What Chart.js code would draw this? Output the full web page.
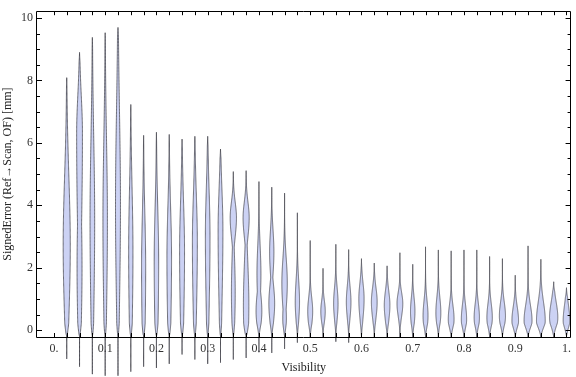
<!DOCTYPE html>
<html>
<head>
<meta charset="utf-8">
<script src="https://cdn.jsdelivr.net/npm/chart.js@4/dist/chart.umd.min.js"></script>
<style>
  html, body { margin: 0; padding: 0; background: #fff; }
  canvas { display: block; }
</style>
</head>
<body>
<canvas id="chart" width="576" height="377"></canvas>
<script>
// visibility bins (violin centres)
const positions = [
  0.025, 0.05, 0.075, 0.1, 0.125, 0.15, 0.175, 0.2, 0.225, 0.25,
  0.275, 0.3, 0.325, 0.35, 0.375, 0.4, 0.425, 0.45, 0.475, 0.5,
  0.525, 0.55, 0.575, 0.6, 0.625, 0.65, 0.675, 0.7, 0.725, 0.75,
  0.775, 0.8, 0.825, 0.85, 0.875, 0.9, 0.925, 0.95, 0.975, 1.0
];
// min / max signed error per bin [mm]
const lows = [
  -0.92, -1.17, -1.41, -1.46, -1.46, -1.33, -1.17, -1.21, -1.08, -0.78,
  -0.94, -1.08, -1.04, -0.94, -0.89, -0.71, -0.73, -0.60, -0.40, -0.22,
  -0.22, -0.37, -0.40, -0.24, -0.24, -0.24, -0.24, -0.24, -0.24, -0.24,
  -0.24, -0.24, -0.24, -0.24, -0.24, -0.24, -0.24, -0.24, -0.24, -0.24
];
const highs = [
  8.09, 8.90, 9.38, 9.53, 9.70, 7.23, 6.24, 6.34, 6.27, 6.12,
  6.21, 6.21, 5.80, 5.08, 5.11, 4.76, 4.58, 4.39, 3.76, 2.87,
  1.98, 2.75, 2.58, 2.29, 2.15, 2.06, 2.48, 2.11, 2.67, 2.57,
  2.54, 2.57, 2.57, 2.36, 2.29, 1.76, 2.70, 2.27, 1.55, 1.36
];
// main density peak: location, height, spread above / below
const modes = [
  2.7, 6.3, 3.5, 3.5, 4.0, 2.5, 2.0, 2.2, 2.3, 2.5,
  2.8, 3.0, 3.2, 3.6, 3.6, 0.6, 0.85, 1.5, 0.9, 0.6,
  0.6, 0.85, 0.9, 1.0, 0.9, 0.8, 0.85, 0.6, 0.45, 0.55,
  0.35, 0.35, 0.4, 0.4, 0.45, 0.3, 0.3, 0.3, 0.4, 0.3
];
const peaks = [
  4.3, 3.5, 2.8, 2.7, 3.0, 2.6, 2.5, 2.7, 2.8, 3.0,
  3.0, 2.8, 2.9, 3.8, 3.7, 3.5, 3.5, 3.3, 2.6, 3.0,
  2.7, 2.7, 2.8, 3.2, 3.5, 3.4, 3.5, 2.7, 3.0, 3.0,
  3.5, 3.2, 3.2, 3.3, 3.7, 4.0, 4.8, 5.3, 5.0, 4.0
];
const spreadUp = [
  2.2, 1.2, 2.6, 2.6, 3.0, 2.0, 1.7, 1.7, 1.6, 1.6,
  1.5, 1.5, 1.3, 0.5, 0.5, 0.6, 0.6, 0.8, 0.7, 0.45,
  0.35, 0.5, 0.5, 0.5, 0.45, 0.45, 0.35, 0.45, 0.5, 0.5,
  0.45, 0.45, 0.45, 0.45, 0.45, 0.45, 0.5, 0.6, 0.5, 0.5
];
const spreadDown = [
  2.3, 3.5, 3.0, 3.0, 3.2, 2.6, 2.4, 2.4, 2.4, 2.4,
  2.4, 2.4, 2.4, 0.6, 0.6, 0.5, 0.6, 0.8, 0.6, 0.45,
  0.35, 0.5, 0.5, 0.6, 0.5, 0.5, 0.4, 0.45, 0.4, 0.4,
  0.35, 0.35, 0.35, 0.35, 0.35, 0.3, 0.3, 0.3, 0.35, 0.3
];
// secondary density peak (0 = none)
const modes2 = [
  0, 2.0, 0, 0, 0, 0, 0, 0, 0, 0,
  0, 0, 0, 1.2, 0.8, 1.8, 2.5, 0.4, 0, 0,
  0, 0, 0, 0, 0, 0, 0, 0, 0, 0,
  0, 0, 0, 0, 0, 0, 0, 0, 0, 0
];
const peaks2 = [
  0, 3.0, 0, 0, 0, 0, 0, 0, 0, 0,
  0, 0, 0, 2.3, 3.3, 2.4, 2.6, 2.2, 0, 0,
  0, 0, 0, 0, 0, 0, 0, 0, 0, 0,
  0, 0, 0, 0, 0, 0, 0, 0, 0, 0
];
const spread2 = [
  1, 2.2, 1, 1, 1, 1, 1, 1, 1, 1,
  1, 1, 1, 1.2, 1.4, 0.9, 0.7, 0.5, 1, 1,
  1, 1, 1, 1, 1, 1, 1, 1, 1, 1,
  1, 1, 1, 1, 1, 1, 1, 1, 1, 1
];

const xTickValues = [0, 0.1, 0.2, 0.3, 0.4, 0.5, 0.6, 0.7, 0.8, 0.9, 1.0];
const xTickLabels = ["0.", "0.1", "0.2", "0.3", "0.4", "0.5", "0.6", "0.7", "0.8", "0.9", "1."];
const yTickValues = [0, 2, 4, 6, 8, 10];

const DENSITY_SCALE = 0.025 / 15.5;   // density unit -> x units
const BODY_BASE = -0.18;
const FONT = "'Liberation Serif', 'DejaVu Serif', serif";

function halfWidth(i, y) {
  if (y < BODY_BASE || y > highs[i]) return 0;
  const d = y >= modes[i] ? (y - modes[i]) / spreadUp[i] : (modes[i] - y) / spreadDown[i];
  let w = peaks[i] * Math.exp(-0.5 * d * d);
  if (peaks2[i] > 0) {
    const d2 = (y - modes2[i]) / spread2[i];
    w = Math.max(w, peaks2[i] * Math.exp(-0.5 * d2 * d2));
  }
  w *= Math.sqrt(Math.min(1, (y - BODY_BASE) / 0.4));
  w *= Math.min(1, (highs[i] - y) / 0.3);
  return Math.max(0, w) * DENSITY_SCALE;
}

const violinPlugin = {
  id: 'violins',
  afterDatasetsDraw(chart) {
    const ctx = chart.ctx;
    const xs = chart.scales.x, ys = chart.scales.y;
    ctx.save();
    ctx.lineWidth = 0.9;
    ctx.lineJoin = 'round';
    positions.forEach((p, i) => {
      const n = 240;
      const left = [], right = [];
      for (let k = 0; k <= n; k++) {
        const y = lows[i] + (highs[i] - lows[i]) * k / n;
        const hw = halfWidth(i, y);
        const py = ys.getPixelForValue(y);
        left.push([xs.getPixelForValue(p - hw), py]);
        right.push([xs.getPixelForValue(p + hw), py]);
      }
      ctx.beginPath();
      left.forEach((pt, k) => k ? ctx.lineTo(pt[0], pt[1]) : ctx.moveTo(pt[0], pt[1]));
      for (let k = right.length - 1; k >= 0; k--) ctx.lineTo(right[k][0], right[k][1]);
      ctx.closePath();
      ctx.fillStyle = 'rgb(204,210,244)';
      ctx.fill();
      ctx.strokeStyle = 'rgba(60,60,68,0.8)';
      ctx.stroke();
    });
    ctx.restore();
  }
};

const framePlugin = {
  id: 'frame',
  afterDraw(chart) {
    const ctx = chart.ctx;
    const a = chart.chartArea;
    const xs = chart.scales.x, ys = chart.scales.y;
    ctx.save();
    ctx.strokeStyle = '#000';
    ctx.lineWidth = 1;
    ctx.beginPath();
    ctx.rect(Math.round(a.left) - 0.5, Math.round(a.top) + 0.5,
             Math.round(a.right - a.left), Math.round(a.bottom - a.top));
    // left / right ticks
    for (let v = 0; v <= 10; v += 0.5) {
      const py = Math.round(ys.getPixelForValue(v)) + 0.5;
      const len = v % 2 === 0 ? 5 : 3;
      ctx.moveTo(a.left, py); ctx.lineTo(a.left + len, py);
      ctx.moveTo(a.right, py); ctx.lineTo(a.right - len, py);
    }
    // top / bottom ticks
    for (let k = 0; k <= 40; k++) {
      const px = Math.round(xs.getPixelForValue(k * 0.025)) + 0.5;
      ctx.moveTo(px, a.top); ctx.lineTo(px, a.top + 4);
      ctx.moveTo(px, a.bottom); ctx.lineTo(px, a.bottom - 4);
    }
    ctx.stroke();
    ctx.restore();
  }
};

const ctx = document.getElementById('chart').getContext('2d');
new Chart(ctx, {
  type: 'scatter',
  data: {
    datasets: [{
      data: positions.map((p, i) => ({ x: p, y: modes[i] })),
      pointRadius: 0,
      showLine: false
    }]
  },
  options: {
    responsive: false,
    animation: false,
    devicePixelRatio: 1,
    layout: { padding: { top: 4, right: 1, left: 0, bottom: 0 } },
    plugins: { legend: { display: false }, tooltip: { enabled: false } },
    scales: {
      x: {
        type: 'linear',
        min: -0.033,
        max: 1.008,
        grid: { display: false, drawTicks: false },
        border: { display: false },
        afterBuildTicks: s => { s.ticks = xTickValues.map(v => ({ value: v })); },
        afterFit: s => { s.height = 40; },
        ticks: {
          autoSkip: false,
          maxRotation: 0,
          padding: 5,
          color: '#333',
          font: { family: FONT, size: 12 },
          callback: (v) => {
            const k = xTickValues.findIndex(t => Math.abs(t - v) < 1e-6);
            return k >= 0 ? xTickLabels[k] : '';
          }
        },
        title: {
          display: true,
          text: 'Visibility',
          color: '#222',
          font: { family: FONT, size: 12 },
          padding: { top: 0, bottom: 2 }
        }
      },
      y: {
        min: -0.22,
        max: 10.22,
        grid: { display: false, drawTicks: false },
        border: { display: false },
        afterBuildTicks: s => { s.ticks = yTickValues.map(v => ({ value: v })); },
        afterFit: s => { s.width = 37; },
        ticks: {
          padding: 4,
          color: '#333',
          font: { family: FONT, size: 12 },
          callback: v => String(v)
        },
        title: {
          display: true,
          text: 'SignedError (Ref→Scan, OF) [mm]',
          color: '#222',
          font: { family: FONT, size: 12 },
          padding: { top: 1, bottom: 0 }
        }
      }
    }
  },
  plugins: [violinPlugin, framePlugin]
});
</script>
</body>
</html>
